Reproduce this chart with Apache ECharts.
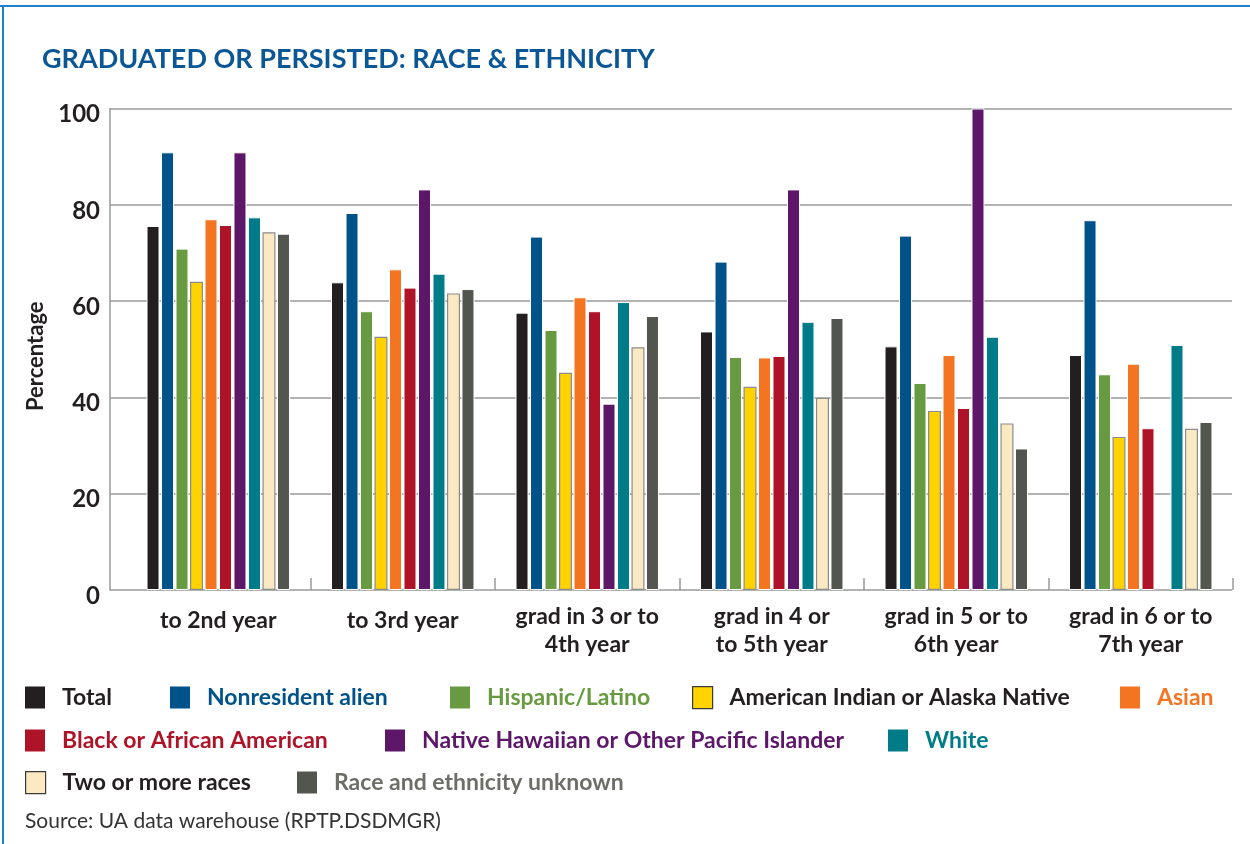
<!DOCTYPE html>
<html>
<head>
<meta charset="utf-8">
<script src="https://cdn.jsdelivr.net/npm/echarts@6/dist/echarts.min.js"></script>
<style>html,body{margin:0;padding:0;background:#fff;}#c{width:1250px;height:844px;}</style>
</head>
<body>
<div id="c"></div>
<script>
const categories = ['to 2nd year', 'to 3rd year', 'grad in 3 or to\n4th year', 'grad in 4 or\nto 5th year', 'grad in 5 or to\n6th year', 'grad in 6 or to\n7th year'];
const yTicks = [0, 20, 40, 60, 80, 100];
const seriesNames = ['Total', 'Nonresident alien', 'Hispanic/Latino', 'American Indian or Alaska Native', 'Asian', 'Black or African American', 'Native Hawaiian or Other Pacific Islander', 'White', 'Two or more races', 'Race and ethnicity unknown'];
const total        = [75.6, 63.9, 57.6, 53.7, 50.6, 48.8];
const nonresident  = [90.9, 78.3, 73.4, 68.2, 73.6, 76.8];
const hispanic     = [70.9, 57.9, 54.0, 48.4, 43.0, 44.8];
const amIndian     = [64.0, 52.6, 45.1, 42.2, 37.2, 31.8];
const asian        = [77.0, 66.6, 60.8, 48.3, 48.8, 47.0];
const black        = [75.8, 62.8, 57.9, 48.6, 37.8, 33.6];
const nhpi         = [90.9, 83.2, 38.7, 83.2, 100, null];
const white        = [77.4, 65.7, 59.8, 55.7, 52.6, 50.9];
const twoOrMore    = [74.3, 61.6, 50.4, 39.9, 34.6, 33.5];
const unknown      = [74.0, 62.5, 56.9, 56.5, 29.4, 34.9];

const seriesData = [total, nonresident, hispanic, amIndian, asian, black, nhpi, white, twoOrMore, unknown];
const colors = ['#231f20', '#00538a', '#689b41', '#ffd200', '#f47521', '#ae1328', '#5c1769', '#007c89', '#fbe9c3', '#53564f'];
const legendTextColors = ['#231f20', '#00538a', '#689b41', '#231f20', '#f47521', '#ae1328', '#5c1769', '#007c89', '#231f20', '#6d6e68'];
const outlined = [false, false, false, true, false, false, false, false, true, false];
const legendPos = [
  [25, 686], [170, 686], [450, 686], [692, 686], [1120, 686],
  [25, 729], [385, 729], [888, 729],
  [25, 771], [297, 771]
];

const FONT = 'Lato, "Open Sans", sans-serif';
const chart = echarts.init(document.getElementById('c'), null, {renderer: 'canvas'});

const legends = seriesNames.map((n, i) => ({
  left: legendPos[i][0], top: legendPos[i][1],
  itemWidth: 20, itemHeight: 22, padding: 0, selectedMode: false,
  icon: 'rect',
  data: [{
    name: n,
    itemStyle: outlined[i] ? {borderColor: '#3a3a3a', borderWidth: 1.2} : {borderWidth: 0},
    textStyle: {color: legendTextColors[i]}
  }],
  textStyle: {fontFamily: FONT, fontSize: 23, fontWeight: 'bold', padding: [0, 0, 0, 12]}
}));

const series = seriesNames.map((n, i) => ({
  name: n, type: 'bar', xAxisIndex: 1, yAxisIndex: 1,
  data: seriesData[i],
  barWidth: 13, barGap: '11.5%',
  itemStyle: {color: colors[i], borderColor: outlined[i] ? '#8c8c8c' : '#ffffff', borderWidth: outlined[i] ? 1.2 : 1},
  emphasis: {disabled: true}
}));

chart.setOption({
  animation: false,
  backgroundColor: '#ffffff',
  textStyle: {fontFamily: FONT},
  title: [
    {text: 'GRADUATED OR PERSISTED: RACE & ETHNICITY', left: 42, top: 46, padding: 0,
     textStyle: {fontFamily: FONT, fontSize: 27, fontWeight: 'bold', color: '#0b5694'}},
    {text: 'Source: UA data warehouse (RPTP.DSDMGR)', left: 25, top: 811, padding: 0,
     textStyle: {fontFamily: FONT, fontSize: 21, fontWeight: 'normal', color: '#333333'}}
  ],
  legend: legends,
  grid: [
    {left: 110, right: 18, top: 108.5, bottom: 254},
    {left: 126, right: 17, top: 108.5, bottom: 254}
  ],
  xAxis: [
    {type: 'value', gridIndex: 0, show: false, min: 0, max: 1},
    {type: 'category', gridIndex: 1, data: categories,
     axisLine: {show: false},
     axisTick: {show: true, inside: true, length: 12, lineStyle: {color: '#999999', width: 1.5},
                interval: function (idx) { return idx > 0; }},
     axisLabel: {fontFamily: FONT, fontSize: 23, fontWeight: 'bold', color: '#231f20', margin: 13, lineHeight: 28, interval: 0,
                 formatter: function (v) { return v.indexOf('\n') < 0 ? '{s|' + v + '}' : v; },
                 rich: {s: {fontFamily: FONT, fontSize: 23, fontWeight: 'bold', color: '#231f20', lineHeight: 28, padding: [8, 0, 0, 0]}}}}
  ],
  yAxis: [
    {type: 'value', gridIndex: 0, min: yTicks[0], max: yTicks[yTicks.length - 1], interval: 20,
     name: 'Percentage', nameLocation: 'middle', nameRotate: 90, nameGap: 63,
     nameTextStyle: {fontFamily: FONT, fontSize: 22, fontWeight: 'bold', color: '#231f20', padding: [0, 14, 0, 0]},
     axisLine: {show: true, lineStyle: {color: '#999999', width: 1.5}},
     axisTick: {show: false},
     axisLabel: {fontFamily: FONT, fontSize: 24, fontWeight: 'bold', color: '#231f20', margin: 10,
                 formatter: function (v) { return '{a|' + v + '}'; },
                 rich: {a: {fontFamily: FONT, fontSize: 24, fontWeight: 'bold', color: '#231f20', padding: [12, 0, 0, 0]}}},
     splitLine: {show: true, lineStyle: {color: '#999999', width: 1.5}}},
    {type: 'value', gridIndex: 1, min: 0, max: 100, interval: 20, show: false, splitLine: {show: false}}
  ],
  graphic: [
    {type: 'rect', shape: {x: 0, y: 5, width: 1250, height: 2}, style: {fill: '#1f7fc8'}, silent: true},
    {type: 'rect', shape: {x: 2, y: 5, width: 2, height: 839}, style: {fill: '#1f7fc8'}, silent: true}
  ],
  series: series
});
</script>
</body>
</html>
